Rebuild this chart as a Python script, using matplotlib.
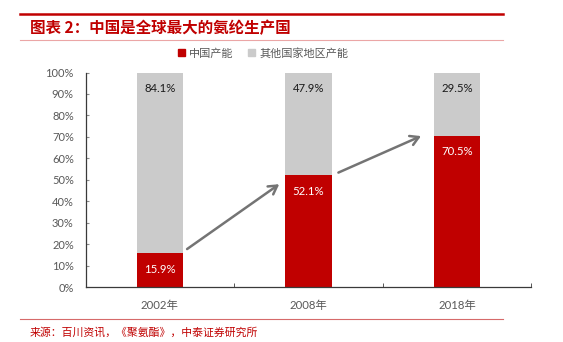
import matplotlib.pyplot as plt
from matplotlib.lines import Line2D
from matplotlib.patches import Patch

plt.rcParams['font.family'] = ['Lato', 'Noto Sans CJK SC', 'DejaVu Sans']

# Data
years = ['2002年', '2008年', '2018年']
china_share = [15.9, 52.1, 70.5]
other_share = [84.1, 47.9, 29.5]
y_ticks = [0, 10, 20, 30, 40, 50, 60, 70, 80, 90, 100]

title = '图表 2：中国是全球最大的氨纶生产国'
source = '来源：百川资讯，《聚氨酯》，中泰证券研究所'
legend_labels = ['中国产能', '其他国家地区产能']

RED = '#c00000'
GREY = '#cbcbcb'
TEXT_GREY = '#595959'

fig = plt.figure(figsize=(5.63, 3.42), dpi=100)
ax = fig.add_axes([0.152, 0.16, 0.792, 0.628])

x = list(range(len(years)))
width = 0.314
ax.bar(x, china_share, width, color=RED, zorder=2)
ax.bar(x, other_share, width, bottom=china_share, color=GREY, zorder=2)

# Value labels near the top of each segment
for xi, c, o in zip(x, china_share, other_share):
    ax.annotate(f'{c:.1f}%', (xi, c), xytext=(0, -11.5), textcoords='offset points',
                ha='center', va='center', color='white', fontsize=8.2)
    ax.annotate(f'{o:.1f}%', (xi, c + o), xytext=(0, -11.5), textcoords='offset points',
                ha='center', va='center', color='#1a1a1a', fontsize=8.2)

# Growth arrows between bars
arrows = [((0.183, 17.8), (0.803, 48.0)), ((1.201, 53.4), (1.757, 70.4))]
for start, end in arrows:
    ax.annotate('', xy=end, xytext=start,
                arrowprops=dict(arrowstyle='->,head_length=0.6,head_width=0.35',
                                color='#747474', lw=1.8, shrinkA=0, shrinkB=0))

ax.set_xlim(-0.5, 2.5)
ax.set_ylim(0, 100)
ax.set_yticks(y_ticks)
ax.set_yticklabels([f'{t}%' for t in y_ticks])
ax.set_xticks(x)
ax.set_xticklabels(years)
ax.set_xticks([-0.5, 0.5, 1.5, 2.5], minor=True)

for s in ['top', 'right']:
    ax.spines[s].set_visible(False)
for s in ['left', 'bottom']:
    ax.spines[s].set_color('#3a3a3a')
    ax.spines[s].set_linewidth(0.9)

ax.tick_params(axis='y', direction='in', length=2.5, color='#8a8a8a',
               labelcolor=TEXT_GREY, labelsize=8, pad=8.5)
ax.tick_params(axis='x', which='major', length=0, labelcolor=TEXT_GREY,
               labelsize=8.2, pad=9)
ax.tick_params(axis='x', which='minor', direction='in', length=3, color='#3a3a3a')

# Legend
handles = [Patch(color=RED), Patch(color=GREY)]
leg = fig.legend(handles, legend_labels, loc='center', bbox_to_anchor=(0.467, 0.845),
                 ncol=2, frameon=False, handlelength=0.6, handleheight=0.6,
                 handletextpad=0.4, columnspacing=1.3,
                 prop={'family': ['Noto Sans CJK SC'], 'size': 8})
for t in leg.get_texts():
    t.set_color(TEXT_GREY)

# Header and footer rules
fig.add_artist(Line2D([20 / 563, 503 / 563], [1 - 13.5 / 342] * 2,
                      color=RED, lw=1.8, transform=fig.transFigure))
fig.add_artist(Line2D([20 / 563, 503 / 563], [1 - 40 / 342] * 2,
                      color='#eba6a6', lw=0.8, transform=fig.transFigure))
fig.add_artist(Line2D([20 / 563, 503 / 563], [1 - 319 / 342] * 2,
                      color='#d66a6a', lw=0.8, transform=fig.transFigure))

fig.text(30 / 563, 1 - 28 / 342, title, color=RED, fontsize=11.2, fontweight='bold',
         family=['Noto Sans CJK SC'], ha='left', va='center')
fig.text(30 / 563, 1 - 332.5 / 342, source, color=RED, fontsize=7.8,
         family=['Noto Sans CJK SC'], ha='left', va='center')

fig.savefig('out.png', dpi=100)
